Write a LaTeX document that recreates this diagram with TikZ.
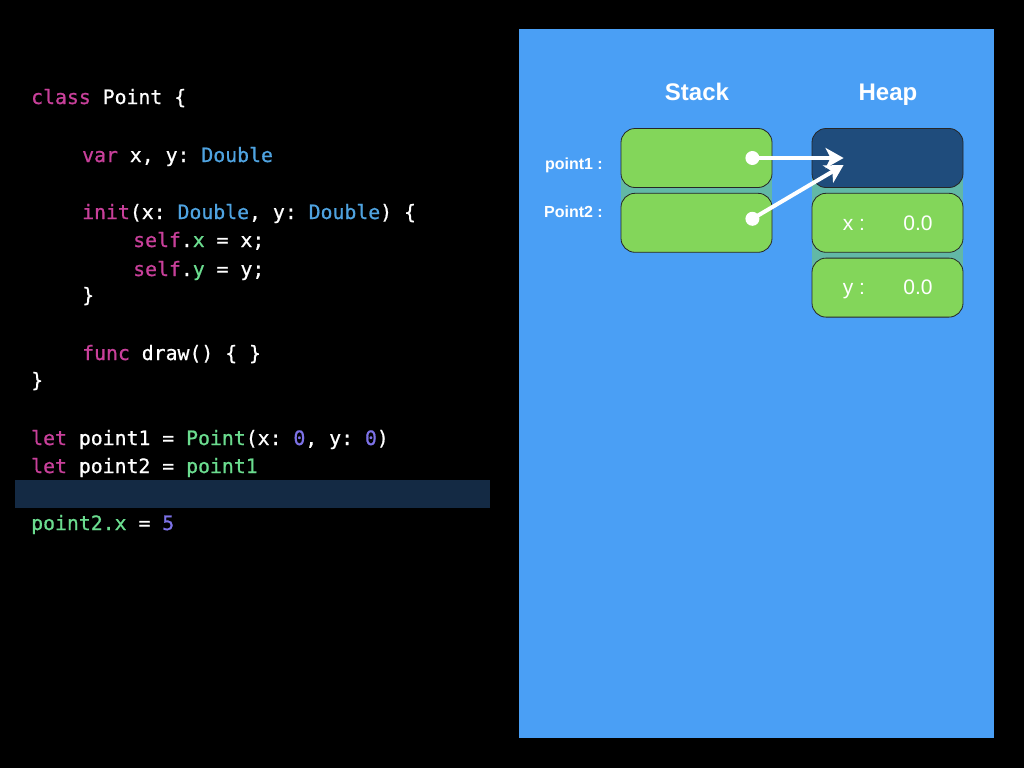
\documentclass[tikz,border=0pt]{standalone}
\usepackage{fontspec}
\usepackage{xcolor}
\usepackage{tikz}
\usetikzlibrary{positioning, arrows.meta}
\setmainfont{Liberation Sans}
\newfontfamily\codefont[FakeBold=0.8]{DejaVu Sans Mono}

\definecolor{panelblue}{HTML}{4A9FF5}
\definecolor{cellgreen}{HTML}{83D65A}
\definecolor{refnavy}{HTML}{1F4C7C}
\definecolor{gapteal}{HTML}{62B8A6}
\definecolor{linebar}{HTML}{142A44}
\definecolor{kwpink}{HTML}{C8409A}
\definecolor{typeblue}{HTML}{4FA3E0}
\definecolor{idgreen}{HTML}{6BDC8F}
\definecolor{numpurple}{HTML}{7D72E8}

\newcommand{\kw}[1]{\textcolor{kwpink}{#1}}
\newcommand{\ty}[1]{\textcolor{typeblue}{#1}}
\newcommand{\ident}[1]{\textcolor{idgreen}{#1}}
\newcommand{\num}[1]{\textcolor{numpurple}{#1}}

\begin{document}
\begin{tikzpicture}[x=1pt, y=-1pt,
        codeline/.style={anchor=base west, inner sep=0pt, text=white,
            font=\codefont\fontsize{19.8}{22}\selectfont\frenchspacing},
        cell/.style={draw=black!85, line width=0.8pt, fill=cellgreen,
            rounded corners=14pt, minimum width=151pt, minimum height=59pt, inner sep=0pt},
        title/.style={text=white, anchor=base, font=\bfseries\fontsize{24}{28}\selectfont},
        varlabel/.style={text=white, anchor=base east, inner sep=0pt, font=\bfseries\fontsize{16}{19}\selectfont},
        field/.style={text=white, anchor=base, inner sep=0pt, font=\fontsize{21}{24}\selectfont},
        ptr/.style={white, line width=4pt, -{Stealth[length=18pt, width=20pt, inset=5pt]}}
    ]
    \fill[black] (0,0) rectangle (1024,768);
    \useasboundingbox (0,0) rectangle (1024,768);

    \fill[linebar] (15,480) rectangle (490,508);
    \fill[panelblue] (519,29) rectangle (994,738);

    \node[codeline] (c1) at (31,104) {\kw{class} Point \{};
    \node[codeline] (c2) at (82,162) {\kw{var} x, y: \ty{Double}};
    \node[codeline] (c3) at (82,219) {\kw{init}(x: \ty{Double}, y: \ty{Double}) \{};
    \node[codeline] (c4) at (133,247) {\kw{self}.\ident{x} = x;};
    \node[codeline] (c5) at (133,276) {\kw{self}.\ident{y} = y;};
    \node[codeline] (c6) at (82,302) {\}};
    \node[codeline] (c7) at (82,360) {\kw{func} draw() \{ \}};
    \node[codeline] (c8) at (31,387) {\}};
    \node[codeline] (c9) at (31,445) {\kw{let} point1 = \ident{Point}(x: \num{0}, y: \num{0})};
    \node[codeline] (c10) at (31,473) {\kw{let} point2 = \ident{point1}};
    \node[codeline] (c11) at (31,530) {\ident{point2.x} = \num{5}};

    \fill[gapteal] (621,140) rectangle (772,240);
    \fill[gapteal] (812,140) rectangle (963,304);

    \node[cell] (s1) at (696.5,158) {};
    \node[cell, below=5pt of s1] (s2) {};
    \node[cell, fill=refnavy] (h0) at (887.5,158) {};
    \node[cell, below=5pt of h0] (h1) {};
    \node[cell, below=5pt of h1] (h2) {};

    \node[title] (stack) at (697,100.5) {Stack};
    \node[title] (heap) at (888,100.5) {Heap};

    \node[varlabel] (v1) at (603,169) {point1 :};
    \node[varlabel] (v2) at (603,217.5) {Point2 :};

    \node[field] (hx) at (854,230) {x :};
    \node[field] (hxv) at (918,230) {0.0};
    \node[field] (hy) at (854,294) {y :};
    \node[field] (hyv) at (918,294) {0.0};

    \coordinate (d1) at ([xshift=-20pt]s1.east);
    \coordinate (d2) at ([xshift=-20pt, yshift=4pt]s2.east);
    \coordinate (t1) at ([xshift=32pt]h0.west);
    \coordinate (t2) at ([xshift=32pt, yshift=-7pt]h0.west);

    \fill[white] (d1) circle (7pt);
    \fill[white] (d2) circle (7pt);
    \draw[ptr] (d1) -- (t1);
    \draw[ptr] (d2) -- (t2);
\end{tikzpicture}
\end{document}
